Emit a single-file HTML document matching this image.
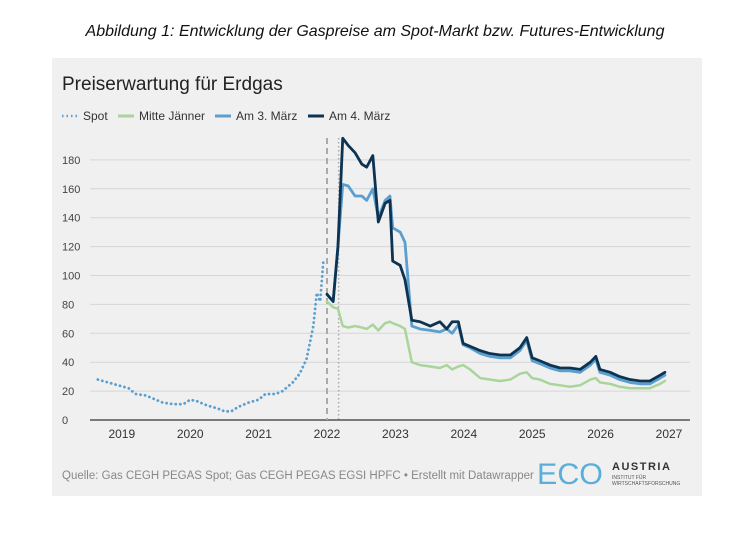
<!DOCTYPE html>
<html><head><meta charset="utf-8"><style>
body{margin:0;width:752px;height:528px;background:#fff;font-family:"Liberation Sans",sans-serif;overflow:hidden}
</style></head><body>
<svg width="752" height="528" xmlns="http://www.w3.org/2000/svg">
<text x="375" y="36" text-anchor="middle" font-size="16" font-style="italic" fill="#111">Abbildung 1: Entwicklung der Gaspreise am Spot-Markt bzw. Futures-Entwicklung</text>
<rect x="52" y="58" width="650" height="438" fill="#f0f0f0"/>
<text x="62" y="90" font-size="19" fill="#222">Preiserwartung für Erdgas</text>
<g font-size="12" fill="#333">
<g><line x1="62" y1="116" x2="78" y2="116" stroke="#5a9fcf" stroke-width="2.5" stroke-dasharray="1.5,3"/><text x="83" y="120">Spot</text></g>
<g><line x1="118" y1="116" x2="134" y2="116" stroke="#a8d59a" stroke-width="3"/><text x="139" y="120">Mitte Jänner</text></g>
<g><line x1="215" y1="116" x2="231" y2="116" stroke="#5a9fcf" stroke-width="3"/><text x="236" y="120">Am 3. März</text></g>
<g><line x1="308" y1="116" x2="324" y2="116" stroke="#0d3352" stroke-width="3"/><text x="329" y="120">Am 4. März</text></g>
</g>
<g id="grid"></g><g id="series"></g>
<text x="62" y="479" font-size="11.5" fill="#888">Quelle: Gas CEGH PEGAS Spot; Gas CEGH PEGAS EGSI HPFC • Erstellt mit Datawrapper</text>
<g>
<text x="537" y="484" font-size="30" fill="#5aaedc" textLength="66" lengthAdjust="spacingAndGlyphs">ECO</text>
<text x="612" y="470" font-size="11" font-weight="bold" fill="#333" letter-spacing="1.5">AUSTRIA</text>
<text x="612" y="479" font-size="5" fill="#555">INSTITUT FÜR</text>
<text x="612" y="485" font-size="5" fill="#555">WIRTSCHAFTSFORSCHUNG</text>
</g>
</svg>
<script>
const yTicks=[0,20,40,60,80,100,120,140,160,180];
const xTicks=[2019,2020,2021,2022,2023,2024,2025,2026,2027];
const spotX=[2018.65,2018.8,2018.95,2019.1,2019.2,2019.35,2019.5,2019.6,2019.75,2019.9,2020.0,2020.1,2020.25,2020.4,2020.5,2020.6,2020.7,2020.85,2021.0,2021.1,2021.25,2021.35,2021.5,2021.6,2021.7,2021.8,2021.85,2021.9,2021.95];
const spotY=[28,26,24,22,18,17,14,12,11,11,14,13,10,8,6,6,9,12,14,18,18,20,26,32,42,65,88,82,112];
const fX=[2022.0,2022.09,2022.16,2022.23,2022.31,2022.41,2022.51,2022.58,2022.67,2022.75,2022.85,2022.92,2022.96,2023.07,2023.14,2023.24,2023.36,2023.51,2023.65,2023.75,2023.83,2023.92,2023.99,2024.09,2024.24,2024.38,2024.53,2024.68,2024.82,2024.92,2025.0,2025.11,2025.26,2025.41,2025.55,2025.7,2025.85,2025.93,2025.99,2026.14,2026.28,2026.43,2026.58,2026.72,2026.87,2026.94];
const janY=[82,78,77,65,64,65,64,63,66,62,67,68,67,65,63,40,38,37,36,38,35,37,38,35,29,28,27,28,32,33,29,28,25,24,23,24,28,29,26,25,23,22,22,22,25,27];
const mar3Y=[87,82,120,163,162,155,155,152,160,140,152,155,133,130,123,65,63,62,61,63,60,66,52,50,46,44,43,43,48,55,41,39,36,34,34,33,38,42,33,31,28,26,25,25,29,31];
const mar4Y=[87,82,120,195,190,185,177,175,183,137,150,152,110,107,97,69,68,65,68,63,68,68,53,51,48,46,45,45,50,57,43,41,38,36,36,35,40,44,35,33,30,28,27,27,31,33];
const NS='http://www.w3.org/2000/svg';
const x=y=>327+(y-2022)*68.4, y=v=>420-v*1.445;
const g=document.getElementById('grid'), s=document.getElementById('series');
function mk(t,a,p){const e=document.createElementNS(NS,t);for(const k in a)e.setAttribute(k,a[k]);p.appendChild(e);return e;}
yTicks.forEach(v=>{
 const l=mk('line',{x1:90,x2:690,y1:y(v),y2:y(v),stroke:v?'#d6d6d6':'#333','stroke-width':v?1:1.3},g);
 
 
 const t=mk('text',{x:62,y:y(v)+4,'font-size':11,fill:'#444'},g);t.textContent=v;
 
 
});
xTicks.forEach(v=>{
 const t=mk('text',{x:x(v),y:438,'font-size':12,fill:'#333','text-anchor':'middle'},g);t.textContent=v;
 
 
});
const d1=mk('line',{x1:x(2022),x2:x(2022),y1:138,y2:420,stroke:'#aaa','stroke-width':2,'stroke-dasharray':'6,4'},g);


const d2=mk('line',{x1:x(2022.17),x2:x(2022.17),y1:138,y2:420,stroke:'#aaa','stroke-width':1.5,'stroke-dasharray':'1.5,2.5'},g);


function line(xs,ys,st,w,dash,name){
 const p=mk('polyline',{points:xs.map((a,i)=>x(a)+','+y(ys[i])).join(' '),fill:'none',stroke:st,'stroke-width':w,'stroke-linejoin':'round','stroke-linecap':'round'},s);
 if(dash)p.setAttribute('stroke-dasharray',dash);
 
 
}
line(spotX,spotY,'#5a9fcf',2.8,'0.1,4.5','line-spot');
line(fX,janY,'#a8d59a',2.5,null,'line-mitte-jaenner');
line(fX,mar3Y,'#5a9fcf',2.8,null,'line-3-maerz');
line(fX,mar4Y,'#0d3352',2.8,null,'line-4-maerz');
</script>
</body></html>
